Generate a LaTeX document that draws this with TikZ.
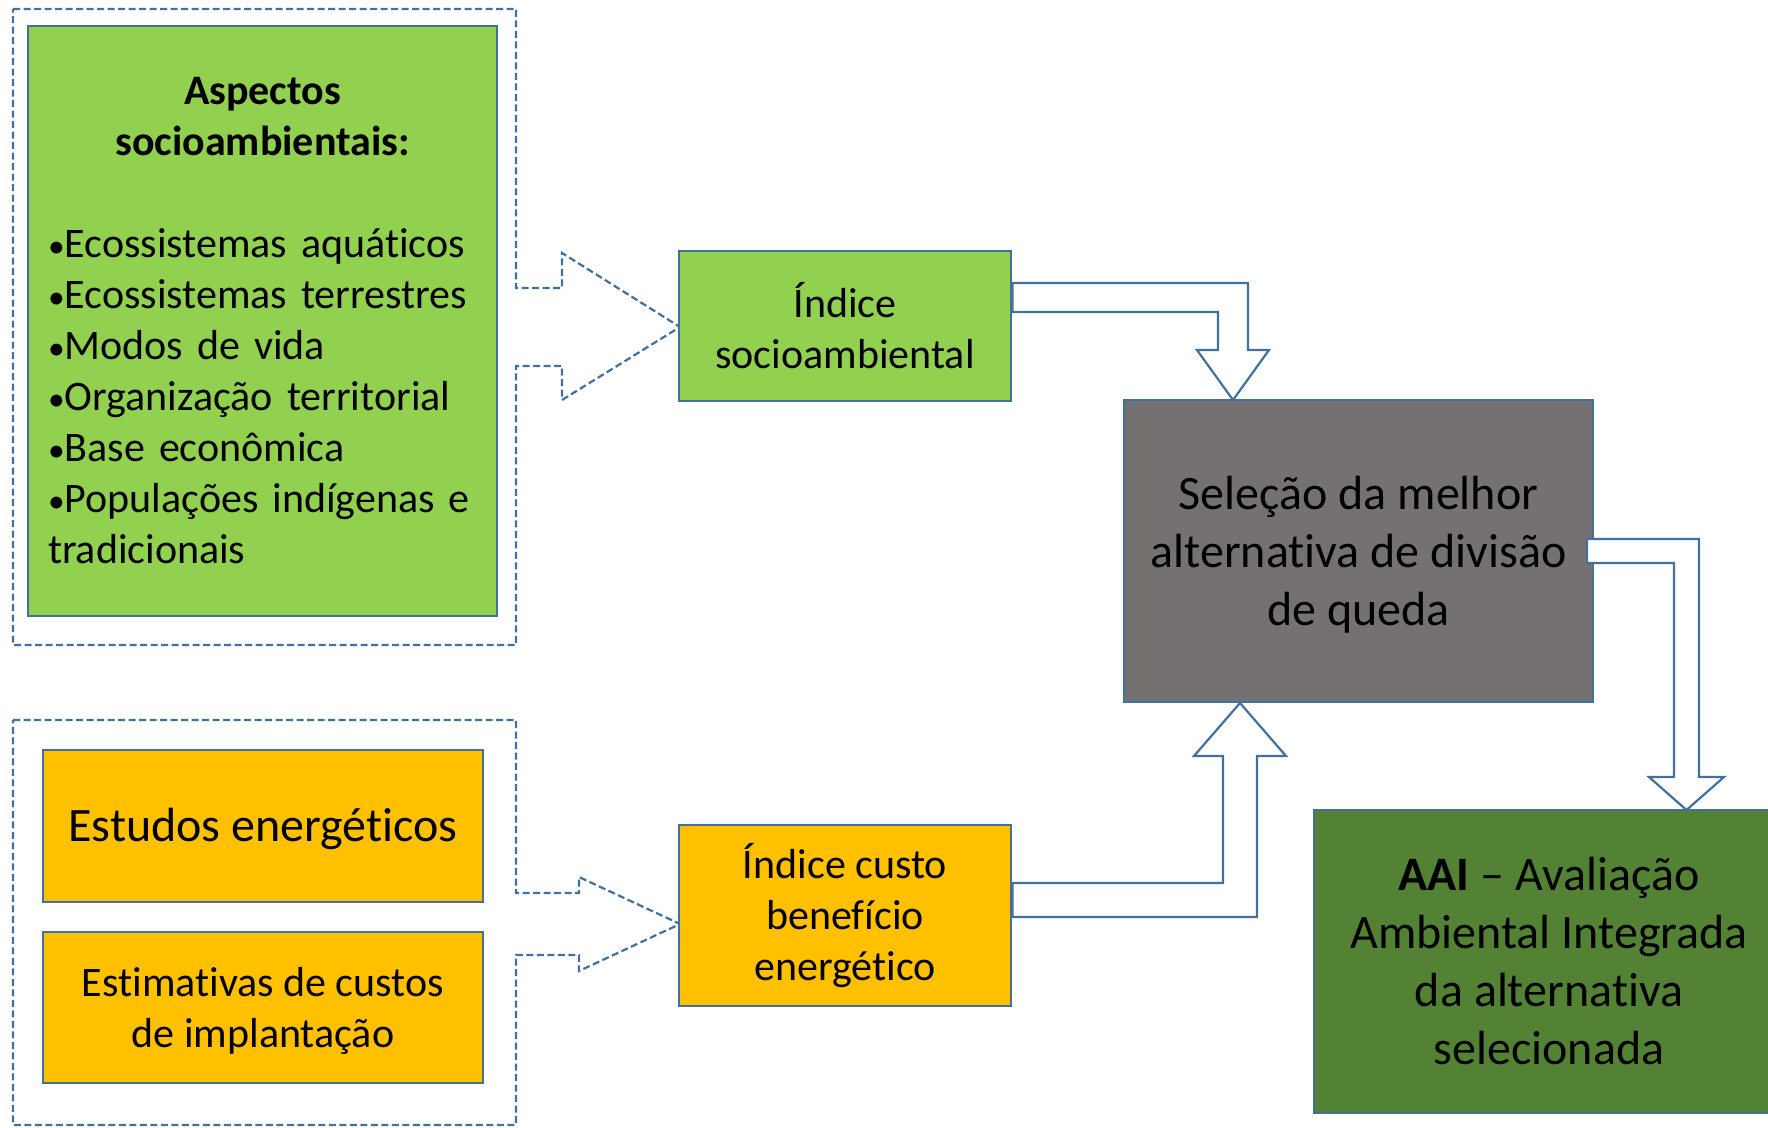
\documentclass[tikz,border=0pt]{standalone}
\usepackage{fontspec}
\setmainfont{Carlito}[Ligatures=NoCommon]
\definecolor{bord}{HTML}{41719C}
\definecolor{lgreen}{HTML}{92D050}
\definecolor{orng}{HTML}{FFC000}
\definecolor{gry}{HTML}{767171}
\definecolor{dgreen}{HTML}{548235}
\newcommand{\blt}{\raisebox{0.3pt}{\scalebox{0.8}{•}}}
\tikzset{
  box/.style={draw=bord, line width=1.4pt, rectangle, inner sep=0pt, align=center, text=black},
  smallf/.style={font=\fontsize{21}{25.5}\selectfont},
  bigf/.style={font=\fontsize{24}{29}\selectfont},
  dashbox/.style={draw=bord, line width=1.1pt, dash pattern=on 3.5pt off 1.75pt, line join=miter},
  barrow/.style={draw=bord, fill=white, line width=1.1pt, line join=miter}
}
\begin{document}
\begin{tikzpicture}[x=0.5pt,y=-0.5pt]
\useasboundingbox (0,0) rectangle (1768,1128);
% dashed callouts
\draw[dashbox] (13,9) -- (516,9) -- (516,288) -- (562,288) -- (562,253) -- (680,327)
  -- (562,400) -- (562,366) -- (516,366) -- (516,645) -- (13,645) -- cycle;
\draw[dashbox] (13,720) -- (516,720) -- (516,893) -- (579,893) -- (579,877) -- (680,924)
  -- (579,971) -- (579,955) -- (516,955) -- (516,1125) -- (13,1125) -- cycle;
% nodes
\node[box, fill=lgreen, smallf, minimum width=234.5pt, minimum height=295pt, text width=214.5pt, align=left] (asp) at (262.5,321)
 {{\centering\bfseries Aspectos\\socioambientais:\par}\vspace{25.5pt}%
  \blt Ecossistemas aquáticos\\
  \blt Ecossistemas terrestres\\
  \blt Modos de vida\\
  \blt Organização territorial\\
  \blt Base econômica\\
  \blt Populações indígenas e\\
  tradicionais};
\node[box, fill=orng, minimum width=220pt, minimum height=76pt,
  label={[bigf, align=center, yshift=-1.7pt]center:{Estudos energéticos}}] (est) at (263,826) {};
\node[box, fill=orng, minimum width=220pt, minimum height=75.5pt,
  label={[smallf, align=center, yshift=-1.7pt]center:{Estimativas de custos\\de implantação}}] (estim) at (263,1007.5) {};
\node[box, fill=lgreen, smallf, minimum width=166pt, minimum height=75pt] (isoc) at (845,326) {Índice\\socioambiental};
\node[box, fill=orng, smallf, minimum width=166pt, minimum height=90.5pt] (icusto) at (845,915.5) {Índice custo\\benefício\\energético};
\node[box, fill=gry, minimum width=234.5pt, minimum height=151pt,
  label={[bigf, align=center, yshift=-2pt]center:{Seleção da melhor\\alternativa de divisão\\de queda}}] (sel) at (1358.5,551) {};
\node[box, fill=dgreen, bigf, minimum width=235pt, minimum height=151.5pt] (aai) at (1549,961.5) {\textbf{AAI} – Avaliação\\Ambiental Integrada\\da alternativa\\selecionada};
% block arrows
\draw[barrow] (isoc.east |- 0,283) -- (1248,283) -- (1248,350) -- (1269,350) -- (1233,400)
  -- (1197,350) -- (1218,350) -- (1218,312) -- (isoc.east |- 0,312) -- cycle;
\draw[barrow] (icusto.east |- 0,883) -- (1223,883) -- (1223,756) -- (1194,756) -- (1240,703)
  -- (1286,756) -- (1257,756) -- (1257,917) -- (icusto.east |- 0,917) -- cycle;
\draw[barrow] (1587,539) -- (1699,539) -- (1699,777) -- (1724,777) -- (1686.5,810)
  -- (1649,777) -- (1674,777) -- (1674,563) -- (1587,563) -- cycle;
\end{tikzpicture}
\end{document}
